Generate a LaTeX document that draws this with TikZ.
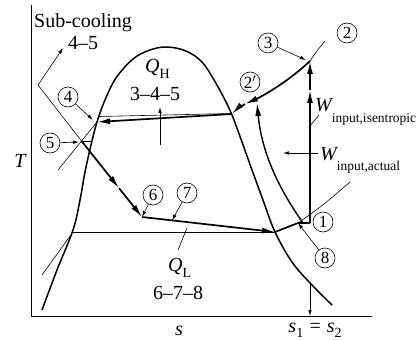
\documentclass[tikz,border=0pt]{standalone}
\usepackage{fontspec}
\setmainfont{Liberation Serif}
\usetikzlibrary{arrows.meta,calc}
\newcommand{\subQ}[1]{\raisebox{-6pt}{\upshape\fontsize{14}{14}\selectfont #1}}
\newcommand{\subW}[1]{\raisebox{-10pt}{\upshape\fontsize{13.5}{14}\selectfont #1}}
\newcommand{\subS}[1]{\raisebox{-5pt}{\upshape\fontsize{14}{14}\selectfont #1}}
\begin{document}
\begin{tikzpicture}[x=1pt,y=-1pt,
  dome/.style={line width=1.5pt},
  proc/.style={line width=1.7pt},
  thinl/.style={line width=0.6pt},
  axisl/.style={line width=0.8pt},
  bigtip/.style={-{Latex[length=13pt,width=6pt]}},
  smalltip/.style={-{Latex[length=6pt,width=3.5pt]}},
  lbl/.style={circle,draw,line width=0.6pt,minimum size=20pt,inner sep=0pt,font=\fontsize{17}{17}\selectfont},
  txt/.style={inner sep=0pt,font=\fontsize{20}{24}\selectfont}]
\useasboundingbox (0,0) rectangle (419,339);
% axes
\coordinate (o) at (31,316);
\coordinate (ytop) at (31,5);
\coordinate (xend) at (372,316);
\draw[axisl] (ytop) -- (o) -- (xend);
% saturation dome
\draw[dome] plot[smooth,tension=0.6] coordinates {(42,310) (57,270) (73,230) (80,200) (85,172) (91,145) (97,122) (105,100) (116,78) (133,59) (150,50) (167,47) (186,51) (202,62) (214,80) (224,98) (232,115) (242,142) (252,170) (263,200) (275,232) (292,262) (311,284) (332,305)};
% key points
\coordinate (p1) at (310,223);
\coordinate (p2) at (310,61);
\coordinate (p2a) at (257,103);
\coordinate (pc) at (245,104);
\coordinate (pd3) at (232,114);
\coordinate (p4) at (97,122);
\coordinate (p5) at (81.5,141);
\coordinate (p6) at (142,217);
\coordinate (pd7) at (275,232);
\coordinate (p7) at ($(p6)!0.226!(pd7)$);
\coordinate (p8) at (298,223);
\coordinate (pa1) at (303,223);
\coordinate (pm) at (310,90);
\coordinate (sc) at (38,85);
\coordinate (pt1) at ($(p5)!0.62!(p6)$);
% thin lines
\draw[thinl] (99,116.5) -- (231,113.5);
\draw[thinl] (73,232) -- (pd7);
\draw[thinl] (58,170) -- (p4);
\draw[thinl] (42,275) -- (73,232);
\draw[thinl] (p8) .. controls (322,206) .. (350,182);
\draw[thinl] (p2) .. controls (316,52) .. (325,41);
\draw[thinl] (p5) -- (90.5,141);
\draw[thinl] (sc) -- (p5);
\draw[thinl,smalltip] (sc) -- (63,48);
\coordinate (pr1) at (310,284);
\coordinate (pr2) at (310,316);
\draw[thinl,smalltip] (pr1) -- (pr2);
% process lines
\draw[proc,bigtip] (p6) -- (pd7);
\draw[proc] (pd7) -- (p8) -- (p1);
\draw[proc,bigtip] (p1) -- (pm);
\draw[proc,bigtip] (pm) -- (p2);
\draw[proc,bigtip] (p2) .. controls (290,80) and (265,95) .. (pc);
\draw[proc,bigtip] (pc) .. controls (240,107) and (236,110) .. (pd3);
\draw[proc,bigtip] (pd3) -- (p4);
\draw[proc,bigtip] (p5) -- (pt1);
\draw[proc,bigtip] (pt1) -- (p6);
\draw[line width=1.4pt,bigtip] (pa1) .. controls (280,190) and (262,155) .. (p2a);
% texts
\node[txt,anchor=base west] (subc) at (34,28) {Sub-cooling};
\node[txt,anchor=base] (t45) at (83,50) {4–5};
\node[txt,anchor=base west] (qh) at (145,73) {\itshape Q\subQ{H}};
\node[txt,anchor=base] (t345) at (155,101) {3–4–5};
\node[txt,anchor=base west] (ql) at (168,271) {\itshape Q\subQ{L}};
\node[txt,anchor=base] (t678) at (178,299) {6–7–8};
\node[txt,anchor=base] (tT) at (20,167) {\itshape T};
\node[txt,anchor=base] (ts) at (179,335) {\itshape s};
\node[txt,anchor=base] (s12) at (315,332) {\itshape s\subS{1} = s\subS{2}};
\node[txt,anchor=base west] (wi) at (315,112) {\itshape W\subW{input,isentropic}};
\node[txt,anchor=base west] (wa) at (320,160) {\itshape W\subW{input,actual}};
% annotation arrows
\coordinate (qa1) at (160,145);
\coordinate (qa2) at (160,107);
\draw[thinl,smalltip] (qa1) -- (qa2);
\coordinate (wa1) at (318,153);
\coordinate (wa2) at (283,153);
\draw[thinl,smalltip] (wa1) -- (wa2);
\coordinate (wi1) at (310,126);
\coordinate (wi2) at (319,115);
\draw[thinl] (wi1) -- (wi2);
\coordinate (ql1) at (178,250);
\coordinate (ql2) at (187,228);
\draw[thinl] (ql1) -- (ql2);
% state labels
\node[lbl] (c1) at (323,222) {1};
\node[lbl] (c2) at (347,33) {2};
\node[lbl] (c2a) at (250,82) {2$'$};
\node[lbl] (c3) at (268,43) {3};
\node[lbl] (c4) at (68,97) {4};
\node[lbl] (c5) at (50,143) {5};
\node[lbl] (c6) at (153,195) {6};
\node[lbl] (c7) at (187,193) {7};
\node[lbl] (c8) at (325,258) {8};
\coordinate (t3) at (306,60);
\coordinate (t4) at (93,120);
\coordinate (t5) at (79,142);
\draw[thinl,smalltip] (c3) -- (t3);
\draw[thinl,smalltip] (c4) -- (t4);
\draw[thinl,smalltip] (c5) -- (t5);
\draw[thinl,smalltip] (c6) -- (p6);
\draw[thinl,smalltip] (c7) -- (p7);
\draw[thinl,smalltip] (c8) -- (p8);
\end{tikzpicture}
\end{document}
